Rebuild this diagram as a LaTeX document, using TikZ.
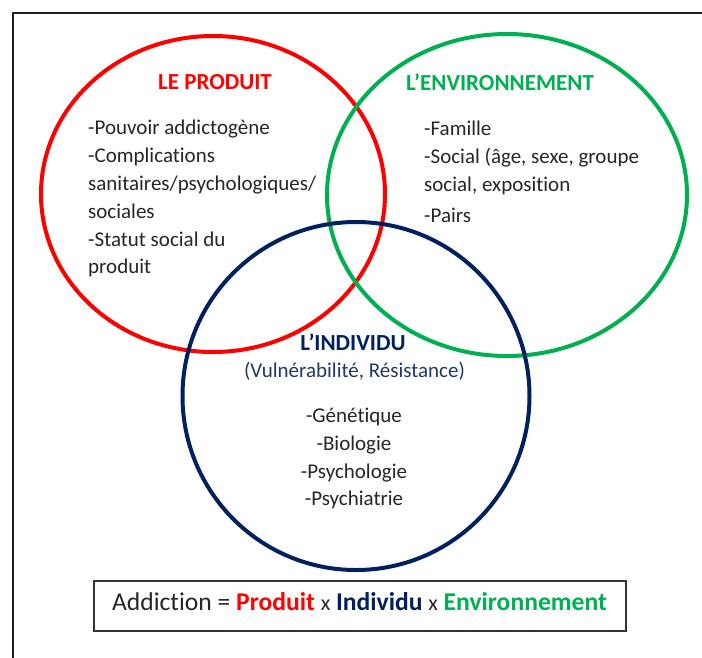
\documentclass[tikz,border=0pt]{standalone}
\usepackage{fontspec}
\setmainfont{Carlito}[Ligatures={NoCommon,NoContextual}]
\usetikzlibrary{shapes.geometric}
\definecolor{pred}{HTML}{FF0000}
\definecolor{pgreen}{HTML}{00B050}
\definecolor{pblue}{HTML}{002060}
\definecolor{pblue2}{HTML}{203864}
\definecolor{ptext}{HTML}{262626}
\begin{document}
\begin{tikzpicture}[x=1pt,y=-1pt,
  ring/.style={ellipse, draw, line width=4pt, inner sep=0pt},
  body/.style={font=\fontsize{21}{25}\selectfont, text=ptext, inner sep=0pt},
  bodyl/.style={body, anchor=base west},
  bodyc/.style={body, anchor=base},
  ttl/.style={font=\fontsize{23}{27}\selectfont\bfseries, inner sep=0pt, anchor=base},
  eqfont/.style={font=\fontsize{25.6}{29}\selectfont, text=ptext, inner sep=0pt, anchor=base}]
\useasboundingbox (0,0) rectangle (702,657);
\fill[white] (0,0) rectangle (702,657);
\draw[line width=1.6pt, color=black!88] (13,13) rectangle (730,690);
% circles
\node[ring, pred, minimum width=344pt, minimum height=316pt] (produit) at (213,194) {};
\node[ring, pgreen, minimum width=360pt, minimum height=322pt] (environ) at (507,195) {};
\node[ring, pblue, minimum width=347pt, minimum height=348pt] (individu) at (356,396) {};
% titles
\node[ttl, text=pred] (tprod) at (215,89) {LE PRODUIT};
\node[ttl, text=pgreen] (tenv) at (500,90) {L’ENVIRONNEMENT};
\node[ttl, text=pblue] (tind) at (353,350) {L’INDIVIDU};
\node[bodyc, text=pblue2] (tind2) at (354.5,377) {(Vulnérabilité, Résistance)};
% produit text
\node[bodyl] (p1) at (88,134) {-Pouvoir addictogène};
\node[bodyl] (p2) at (88,162) {-Complications};
\node[bodyl] (p3) at (88,190) {sanitaires/psychologiques/};
\node[bodyl] (p4) at (88,218) {sociales};
\node[bodyl] (p5) at (88,246) {-Statut social du};
\node[bodyl] (p6) at (88,273) {produit};
% environnement text
\node[bodyl] (e1) at (424,135) {-Famille};
\node[bodyl] (e2) at (424,163) {-Social (âge, sexe, groupe};
\node[bodyl] (e3) at (424,191) {social, exposition};
\node[bodyl] (e4) at (424,222) {-Pairs};
% individu text
\node[bodyc] (i1) at (354,422) {-Génétique};
\node[bodyc] (i2) at (354,450) {-Biologie};
\node[bodyc] (i3) at (354,478) {-Psychologie};
\node[bodyc] (i4) at (354,505) {-Psychiatrie};
% equation box
\node[draw=black!80, line width=1.6pt, minimum width=532pt, minimum height=50pt, inner sep=0pt] (eqbox) at (360,606) {};
\node[eqfont] (eq) at (359.5,610) {Addiction = \textbf{\textcolor{pred}{Produit}} {\fontsize{22}{25}\selectfont x} \textbf{\textcolor{pblue}{Individu}} {\fontsize{22}{25}\selectfont x} \textbf{\textcolor{pgreen}{Environnement}}};
\end{tikzpicture}
\end{document}
